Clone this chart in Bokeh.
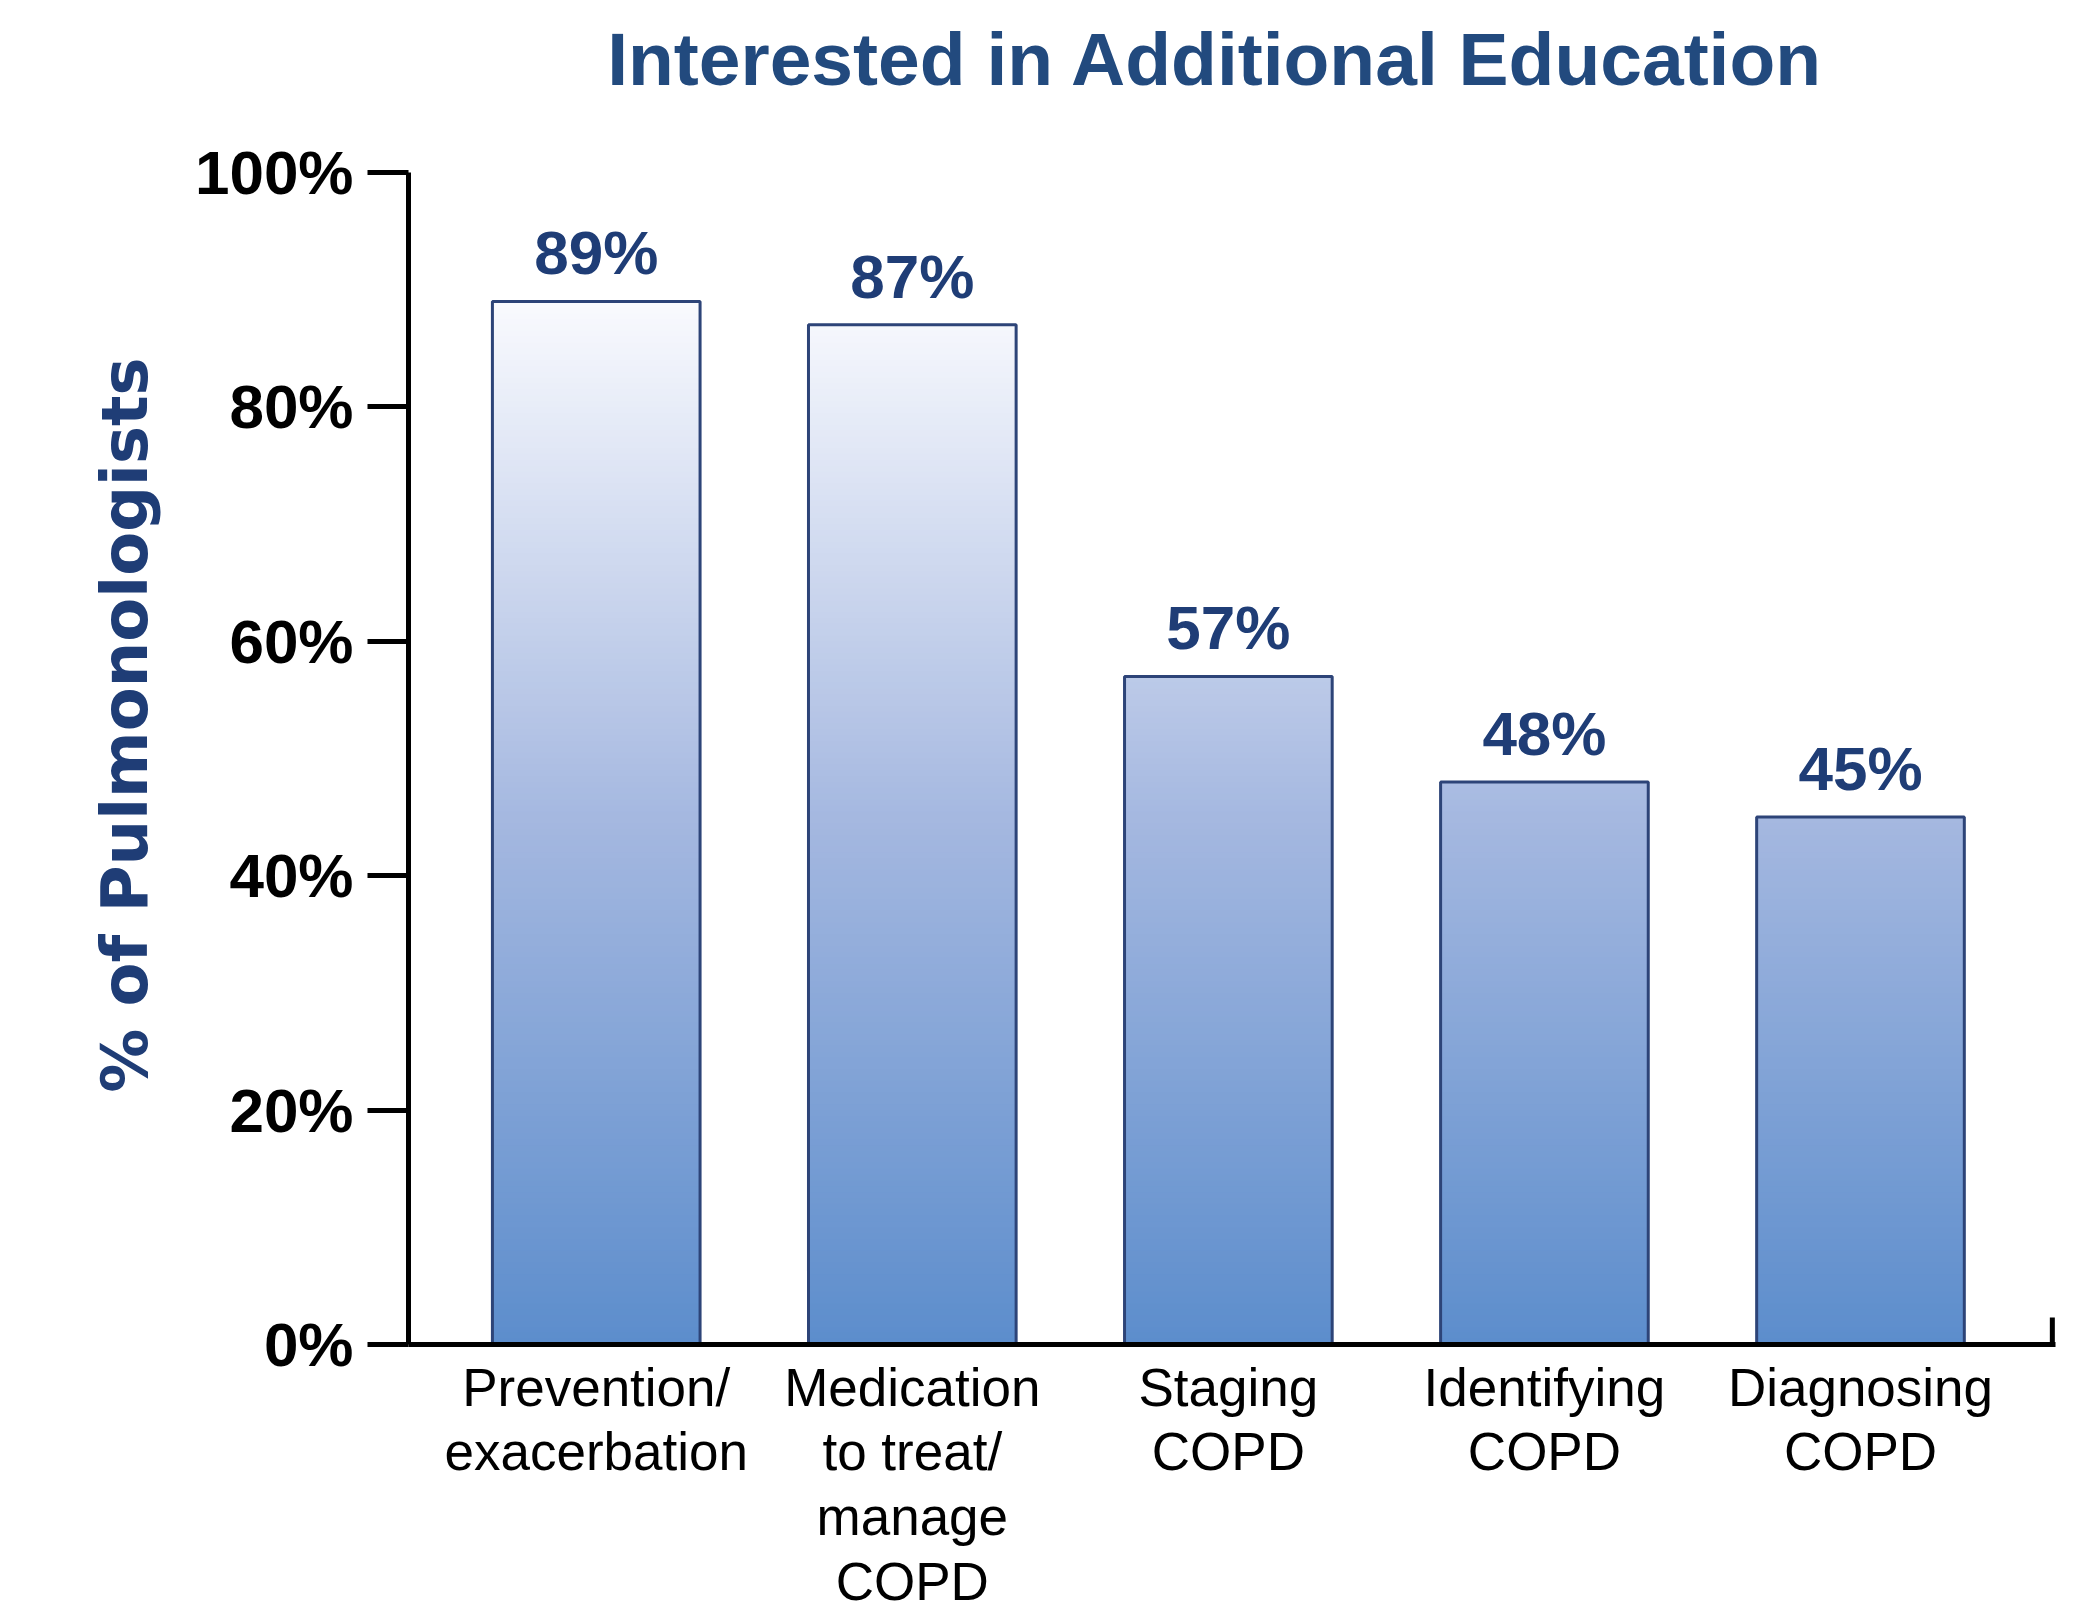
from bokeh.plotting import figure
from bokeh.layouts import column
from bokeh.models import Range1d, FixedTicker, PrintfTickFormatter, ColumnDataSource, LabelSet
from bokeh.core.properties import value
from bokeh.embed import file_html
from bokeh.resources import INLINE

# ---- data ----
categories = ["Prevention/\nexacerbation", "Medication\nto treat/\nmanage\nCOPD",
              "Staging\nCOPD", "Identifying\nCOPD", "Diagnosing\nCOPD"]
values = [89, 87, 57, 48, 45]
y_ticks = [0, 20, 40, 60, 80, 100]
title_text = "Interested in Additional Education"
y_label = "% of Pulmonologists"

# ---- style ----
NAVY = "#1F3D76"
TITLE_C = "#224A7E"
OUTLINE = "#2D4478"
stops = [(0.0, (92, 141, 204)), (45.0, (165, 184, 224)), (89.0, (249, 250, 254))]

def grad(y):
    for (y0, c0), (y1, c1) in zip(stops[:-1], stops[1:]):
        if y <= y1:
            t = max(0.0, (y - y0) / (y1 - y0))
            c = [round(a + (b - a) * t) for a, b in zip(c0, c1)]
            return "#%02x%02x%02x" % tuple(c)
    return "#%02x%02x%02x" % stops[-1][1]

W = 2087
TITLE_H = 132
LEFT, RIGHT = 408, 32

# ---- title strip (frame aligned with the chart frame by the column layout) ----
pt = figure(width=W, height=TITLE_H, x_range=Range1d(LEFT, W - RIGHT), y_range=Range1d(0, TITLE_H),
            output_backend="svg", toolbar_location=None,
            x_axis_location=None, y_axis_location=None,
            min_border=0, min_border_left=LEFT, min_border_right=RIGHT)
pt.outline_line_color = None
pt.grid.visible = False
pt.text(x=[1215], y=[74], text=[title_text], text_align="center",
        text_baseline="alphabetic", text_font=value("Liberation Sans"),
        text_font_style="bold", text_font_size="75px", text_color=TITLE_C)

# ---- main chart ----
xs = list(range(len(categories)))
bar_w = 0.657

p = figure(width=W, height=1619 - TITLE_H,
           x_range=Range1d(-0.594, 4.617), y_range=Range1d(0, 100),
           output_backend="svg", toolbar_location=None,
           min_border_left=LEFT, min_border_right=RIGHT,
           min_border_top=40, min_border_bottom=275)
p.outline_line_color = None
p.grid.visible = False
p.background_fill_color = "white"

# gradient bars built from thin strips
step = 0.5
L, R, B, T, C = [], [], [], [], []
for x, v in zip(xs, values):
    k = 0
    while k * step < v:
        b = k * step
        t = min(b + step * 1.6, v)
        L.append(x - bar_w / 2); R.append(x + bar_w / 2)
        B.append(b); T.append(t); C.append(grad(b + step / 2))
        k += 1
p.quad(left=L, right=R, bottom=B, top=T, fill_color=C, line_color=None)

src = ColumnDataSource(dict(x=xs, top=values, lab=[f"{v}%" for v in values]))
p.vbar(x="x", top="top", bottom=0, width=bar_w, source=src,
       fill_color=None, line_color=OUTLINE, line_width=3)

labels = LabelSet(x="x", y="top", text="lab", source=src, y_offset=27,
                  text_align="center", text_baseline="alphabetic",
                  text_font=value("Liberation Sans"), text_font_style="bold",
                  text_font_size="62px", text_color=NAVY)
p.add_layout(labels)

# small closing tick at right end of x axis
p.segment(x0=[4.607], y0=[0], x1=[4.607], y1=[2.3], line_color="black", line_width=5)

# y axis
ya = p.yaxis[0]
ya.ticker = FixedTicker(ticks=y_ticks)
ya.formatter = PrintfTickFormatter(format="%d%%")
ya.axis_line_width = 5
ya.axis_line_color = "black"
ya.major_tick_line_width = 5
ya.major_tick_line_color = "black"
ya.major_tick_out = 41
ya.major_tick_in = 0
ya.minor_tick_line_color = None
ya.major_label_standoff = 14
ya.major_label_text_font = "Liberation Sans"
ya.major_label_text_font_style = "bold"
ya.major_label_text_font_size = "62px"
ya.major_label_text_color = "black"
ya.axis_label = "\u00a0\u00a0\u00a0" + y_label
ya.axis_label_text_font = "DejaVu Sans"
ya.axis_label_text_font_style = "bold"
ya.axis_label_text_font_size = "64px"
ya.axis_label_text_color = NAVY
ya.axis_label_standoff = 30

# x axis
xa = p.xaxis[0]
xa.ticker = FixedTicker(ticks=xs)
xa.major_label_overrides = {i: c for i, c in zip(xs, categories)}
xa.axis_line_width = 5
xa.axis_line_color = "black"
xa.major_tick_line_color = None
xa.major_tick_out = 0
xa.major_tick_in = 0
xa.minor_tick_line_color = None
xa.major_label_standoff = 13
xa.major_label_text_font = "Liberation Sans"
xa.major_label_text_font_size = "53px"
xa.major_label_text_color = "black"
xa.major_label_text_line_height = 1.1

layout = column(pt, p, spacing=0)
open("out.html", "w").write(file_html(layout, INLINE))
